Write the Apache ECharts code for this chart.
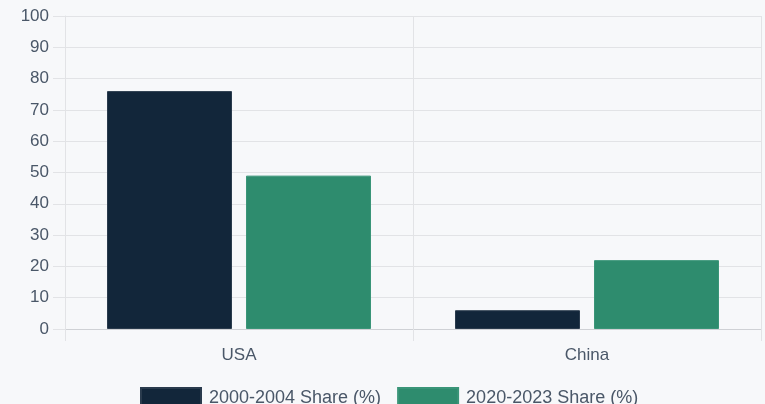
<!DOCTYPE html>
<html>
<head>
<meta charset="utf-8">
<script src="https://cdn.jsdelivr.net/npm/echarts@6/dist/echarts.min.js"></script>
<style>
  html, body { margin: 0; padding: 0; background: #f7f8fa; }
  #chart { width: 765px; height: 404px; }
</style>
</head>
<body>
<div id="chart"></div>
<script>
  const categories = ['USA', 'China']
  const share2000 = [76, 6]
  const share2020 = [49, 22]
  const seriesNames = ['2000-2004 Share (%)', '2020-2023 Share (%)']

  const font = "'Liberation Sans', Arial, sans-serif"
  const textColor = '#4a5768'
  const gridColor = '#e2e3e6'

  const chart = echarts.init(document.getElementById('chart'))
  chart.setOption({
    backgroundColor: '#f7f8fa',
    animation: false,
    textStyle: { fontFamily: font },
    grid: { left: 65, right: 4, top: 16, bottom: 75 },
    legend: {
      top: 382,
      left: 135,
      itemWidth: 60,
      itemHeight: 20,
      itemGap: 16,
      icon: 'rect',
      textStyle: { fontSize: 18, color: textColor, fontFamily: font, padding: [0, 0, 0, 3] },
      data: seriesNames
    },
    xAxis: {
      type: 'category',
      data: categories,
      axisLine: { show: true, lineStyle: { color: '#cfd1d5' } },
      axisTick: { show: true, length: 12, lineStyle: { color: gridColor } },
      splitLine: { show: true, lineStyle: { color: gridColor } },
      axisLabel: { fontSize: 17, color: textColor, margin: 18, fontFamily: font }
    },
    yAxis: {
      type: 'value',
      min: 0,
      max: 100,
      interval: 10,
      axisLine: { show: true, lineStyle: { color: gridColor } },
      axisTick: { show: true, length: 12, lineStyle: { color: gridColor } },
      splitLine: { show: true, lineStyle: { color: gridColor } },
      axisLabel: { fontSize: 17, color: textColor, margin: 16, fontFamily: font }
    },
    series: [
      {
        name: seriesNames[0],
        type: 'bar',
        data: share2000,
        barWidth: 125,
        barGap: '11.2%',
        itemStyle: { color: '#12263a', borderColor: '#2a3b4d', borderWidth: 1 }
      },
      {
        name: seriesNames[1],
        type: 'bar',
        data: share2020,
        barWidth: 125,
        itemStyle: { color: '#2e8c6e', borderColor: '#3a9578', borderWidth: 1 }
      }
    ]
  })
</script>
</body>
</html>
